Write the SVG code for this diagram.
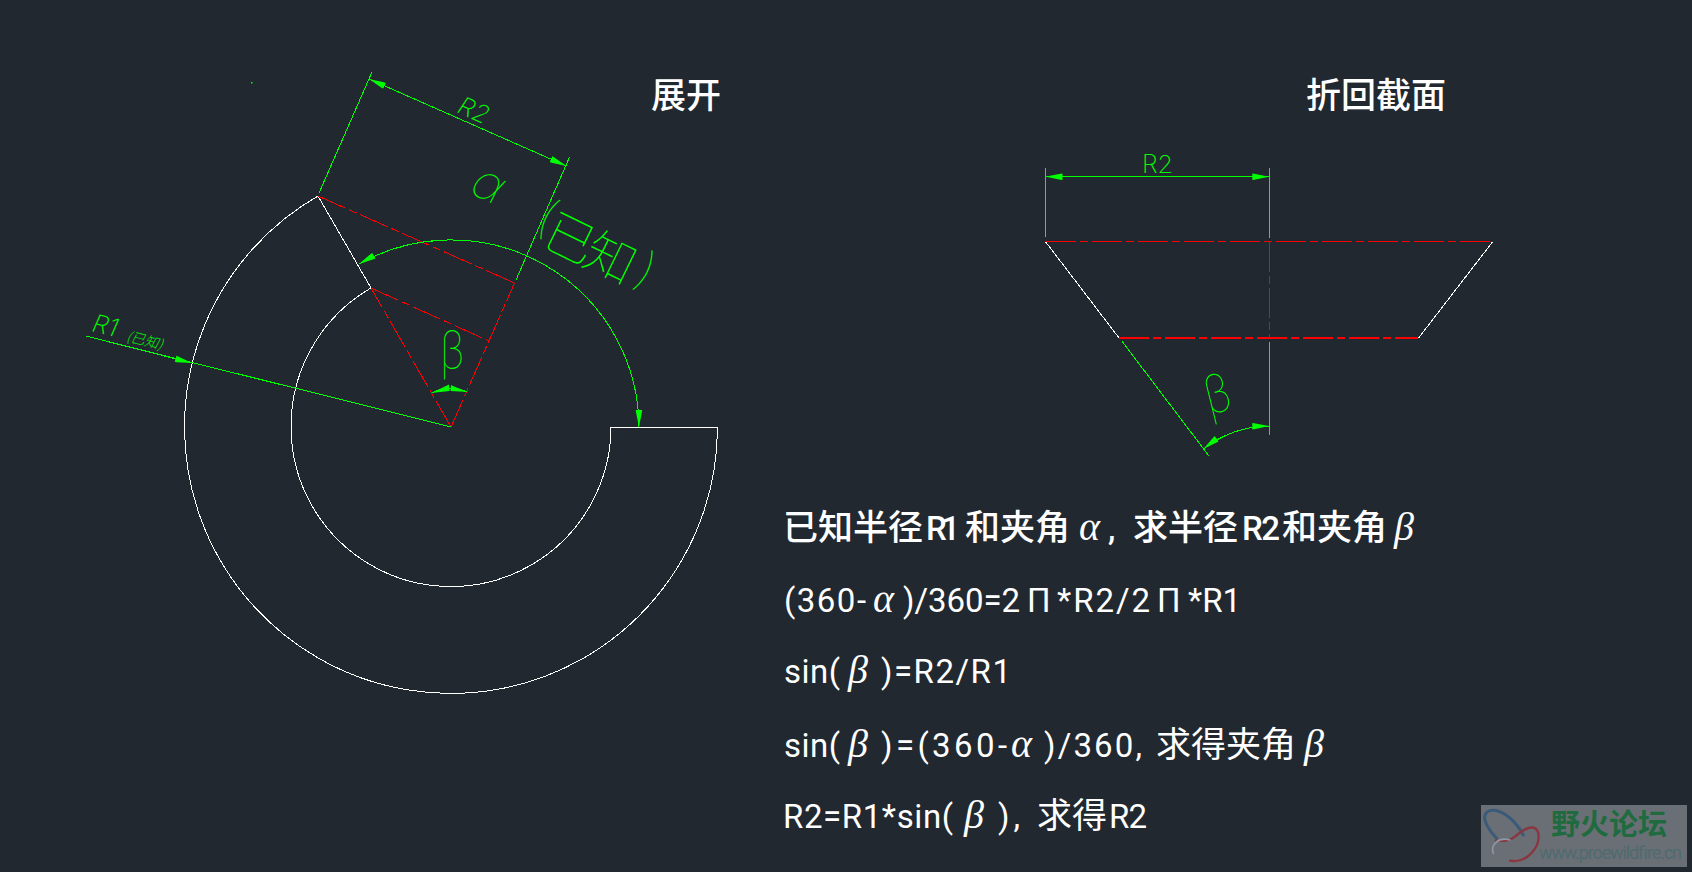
<svg xmlns="http://www.w3.org/2000/svg" width="1692" height="872" viewBox="0 0 1692 872">
<style>
.w{fill:none;stroke:#fff;stroke-width:1;shape-rendering:crispEdges}
.g{fill:none;stroke:#0f0;stroke-width:1;shape-rendering:crispEdges}
.a{marker-start:url(#arw);marker-end:url(#arw)}
.r{fill:none;stroke:#f00;stroke-width:1;stroke-dasharray:30 4 8 4;shape-rendering:crispEdges}
.cad{fill:#0f0;font-family:Inter,"Liberation Sans","Noto Sans CJK SC",sans-serif;font-weight:100}
.cj{fill:#0f0;font-family:"Noto Sans CJK SC",sans-serif;font-weight:100}
.t{fill:#fff;font-family:Roboto,"Liberation Sans","Noto Sans CJK SC",sans-serif;font-size:33px}
.c{font-family:"Noto Sans CJK SC",sans-serif;font-size:35px}
.m{font-weight:500}
.i{font-family:"Liberation Serif",serif;font-style:italic;font-size:40px}
.h{fill:#fff;font-family:"Noto Sans CJK SC",sans-serif;font-size:35px;font-weight:500}
</style>
<defs>
<marker id="arw" markerUnits="userSpaceOnUse" viewBox="0 0 17 8" refX="17" refY="4" markerWidth="17" markerHeight="8" orient="auto-start-reverse">
<path d="M17 4L2 1L0 0.8V7.2L2 7Z" fill="#0f0"/>
</marker>
</defs>
<rect width="1692" height="872" fill="#212830"/>
<g id="expanded">
<path class="w" d="M717.5 427A266.5 266.5 0 1 1 318 196L371 288A160 160 0 1 0 611 427H717.5Z" stroke-linejoin="round"/>
<path class="r" d="M318 196L514.5 283M371 288L489 341M451 427L371 288M451 427L514.5 283"/>
</g>
<g id="expanded-dims">
<path class="g" d="M319 193L372 72M516 280L569.5 157M86 336L451 427"/>
<path class="g a" d="M369 79L566.5 166"/>
<path class="g a" d="M359 264A188 188 0 0 1 639 427"/>
<path class="g" d="M86 336L192 363" marker-end="url(#arw)"/>
<path class="g" d="M432 393Q450 384 467 392"/>
<path fill="#0f0" d="M431 393L446 386L449 384.5L449.5 391ZM468 392L453 386L451 385L450.5 391Z"/>
<rect x="251" y="82" width="1.5" height="1.5" fill="#0f0"/>
<text class="cad" font-size="25" font-style="italic" style="font-weight:200" transform="translate(456 112) rotate(24)">R2</text>
<text class="cad" font-size="48" transform="translate(474 196) rotate(26)"><tspan font-style="italic" x="-7" y="-1">α</tspan><tspan x="68" y="3">(</tspan><tspan class="cj" x="80" y="14" font-size="50" letter-spacing="-5">已知</tspan><tspan x="180" y="8">)</tspan></text>
<text class="cad" font-size="25" font-style="italic" style="font-weight:200" transform="translate(91 331) rotate(14)">R1<tspan class="cj" x="36" y="1" font-size="14" style="font-weight:300">(已知)</tspan></text>
<text class="cad" font-size="53" transform="translate(440 369) scale(.8 1)">β</text>
</g>
<g id="section">
<path class="w" d="M1045.5 241.7L1119.3 338.3M1492.7 241.7L1418.3 338.3"/>
<path class="r" d="M1045.5 241.7H1492.7M1269.3 241.7V338.3"/>
<path class="r" style="stroke-width:2" d="M1119.3 338.3H1418.3"/>
<path class="g" d="M1045.3 168.3V237M1269.3 168V237.5M1269.3 341.7V435M1122 341.3L1208.7 455.7"/>
<path class="g a" d="M1045.5 176.7H1269.3"/>
<path class="g a" d="M1203.3 449A110 110 0 0 1 1269.3 426"/>
<text class="cad" font-size="25" style="font-weight:200" x="1142" y="173">R2</text>
<text class="cad" font-size="53" transform="translate(1209 415) rotate(-14) scale(.85 1)">β</text>
</g>
<g id="titles">
<text class="h" x="651" y="108">展开</text>
<text class="h" x="1306" y="108">折回截面</text>
</g>
<g id="equations">
<text class="t m" y="540"><tspan class="c" x="783">已知半径</tspan><tspan x="926" textLength="34">R1</tspan><tspan class="c" x="965">和夹角</tspan><tspan class="i" x="1079">α</tspan><tspan x="1108">,</tspan><tspan class="c" x="1133">求半径</tspan><tspan x="1242" textLength="38">R2</tspan><tspan class="c" x="1282">和夹角</tspan><tspan class="i" x="1394">β</tspan></text>
<text class="t" y="612"><tspan x="784" textLength="82">(360-</tspan><tspan class="i" x="873">α</tspan><tspan x="903" textLength="117">)/360=2</tspan><tspan x="1027">Π</tspan><tspan x="1057" textLength="93">*R2/2</tspan><tspan x="1157">Π</tspan><tspan x="1188" textLength="53">*R1</tspan></text>
<text class="t" y="683"><tspan x="784" textLength="56">sin(</tspan><tspan class="i" x="848">β</tspan><tspan x="881" textLength="130">)=R2/R1</tspan></text>
<text class="t" y="757"><tspan x="784" textLength="56">sin(</tspan><tspan class="i" x="848">β</tspan><tspan x="881" textLength="126">)=(360-</tspan><tspan class="i" x="1011">α</tspan><tspan x="1044" textLength="98">)/360,</tspan><tspan class="c" x="1156">求得夹角</tspan><tspan class="i" x="1304">β</tspan></text>
<text class="t" y="828"><tspan x="783" textLength="170">R2=R1*sin(</tspan><tspan class="i" x="964">β</tspan><tspan x="998" textLength="22">),</tspan><tspan class="c" x="1037">求得</tspan><tspan x="1109" textLength="38">R2</tspan></text>
</g>
<g id="watermark">
<rect x="1481" y="805" width="206" height="62" fill="#6a6f75"/>
<g transform="translate(1470 790) scale(.3333)" fill="none" stroke-linecap="round">
<path d="M160 135C130 80 85 55 60 62C32 70 42 105 80 145" stroke="#3a5a7a" stroke-width="9"/>
<path d="M120 212C170 222 212 170 205 130C198 100 165 112 135 140C110 160 90 150 78 152" stroke="#8a3540" stroke-width="7"/>
<path d="M120 150C85 140 60 165 70 190" stroke="#8c98a6" stroke-width="5"/>
</g>
<text x="1551" y="835" font-family="'Noto Sans CJK SC',sans-serif" font-size="29" font-weight="700" fill="#1f6b3f">野火论坛</text>
<text x="1539" y="859" font-family="Roboto,sans-serif" font-size="18" fill="#4f6b70" textLength="143">www.proewildfire.cn</text>
</g>
</svg>
